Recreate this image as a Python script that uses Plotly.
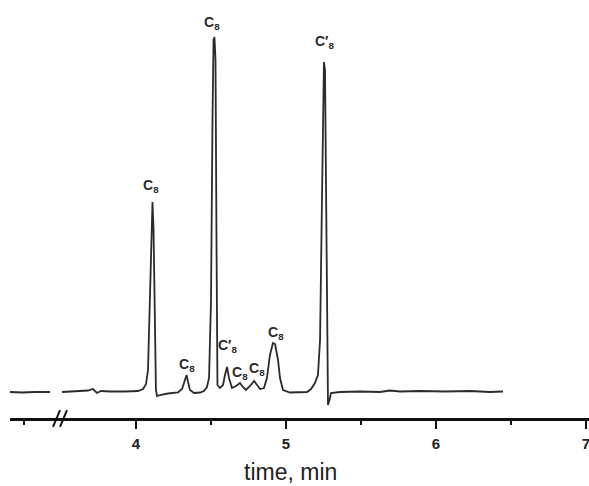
import plotly.graph_objects as go

# ---- data (time in min, detector signal in arbitrary units) ----
trace_time = [3.160, 3.240, 3.327, 3.427, None,
              3.507, 3.573, 3.640, 3.680, 3.713, 3.740, 3.767, 3.827, 3.927, 4.013,
              4.047, 4.067, 4.080, 4.093, 4.103, 4.110, 4.117, 4.127, 4.133, 4.140,
              4.160, 4.213, 4.280, 4.307, 4.327, 4.337, 4.347, 4.360, 4.387, 4.427,
              4.453, 4.473, 4.487, 4.500, 4.510, 4.517, 4.523, 4.530, 4.537, 4.543,
              4.560, 4.580, 4.593, 4.607, 4.620, 4.640, 4.667, 4.693, 4.713, 4.733,
              4.760, 4.787, 4.807, 4.827, 4.853, 4.873, 4.893, 4.913, 4.927, 4.947,
              4.960, 4.980, 5.027, 5.093, 5.140, 5.167, 5.193, 5.213, 5.227, 5.237,
              5.247, 5.253, 5.260, 5.267, 5.273, 5.280, 5.290, 5.300, 5.360, 5.493,
              5.627, 5.693, 5.760, 5.893, 6.060, 6.227, 6.360, 6.447]
trace_signal = [0, -0.5, 0, 0, None,
                0, 0.5, 1, 1.5, 3, -1, 1, 0.5, 0.5, 1,
                3, 8, 22, 102, 177, 190, 162, 52, 2, -4,
                -3, -1.5, -0.5, 3, 14, 17, 10, 2, -1, -0.5,
                1, 5, 14, 92, 272, 352, 355, 332, 142, 7,
                4, 7, 17, 25, 14, 4, 6, 9, 5, 2,
                6, 11, 7, 3, 4, 14, 37, 49, 48, 32,
                14, 2, -0.5, -0.5, 0, 3, 9, 17, 52, 162,
                292, 330, 322, 192, 62, -13, -8, -1, 0, 0.5,
                0, 1.5, 0.5, 1, 0.5, 1, 0, 0.5]

peak_times = [4.110, 4.337, 4.523, 4.607, 4.693, 4.787, 4.913, 5.253]
peak_heights = [190, 17, 355, 25, 9, 11, 49, 330]
peak_labels = ["C<sub>8</sub>", "C<sub>8</sub>", "C<sub>8</sub>", "C′<sub>8</sub>",
               "C<sub>8</sub>", "C<sub>8</sub>", "C<sub>8</sub>", "C′<sub>8</sub>"]

major_ticks = [4, 5, 6, 7]
major_tick_text = ["4", "5", "6", "7"]
minor_ticks = [3.25, 4.5, 5.5, 6.5]
x_title = "time, min"

# ---- styling / placement (pixels) ----
label_dx = [-2, 0, -2, 0, 0, 3, 3, 1]
label_dy = [16, 10, 14, 21, 10, 12, 10, 20]
ink = "#2b2b2b"
font_family = "Liberation Sans, Arial, sans-serif"

fig = go.Figure()
fig.add_trace(go.Scatter(x=trace_time, y=trace_signal, mode="lines",
                         line=dict(color=ink, width=1.8), connectgaps=False,
                         hoverinfo="skip", showlegend=False))

for t, h, lab, dx, dy in zip(peak_times, peak_heights, peak_labels, label_dx, label_dy):
    fig.add_annotation(x=t, y=h, text="<b>" + lab + "</b>", showarrow=False,
                       xanchor="center", yanchor="middle", xshift=dx, yshift=dy,
                       font=dict(family=font_family, size=14, color=ink))

fig.add_annotation(x=0.485, y=0, xref="paper", yref="paper", text=x_title,
                   showarrow=False, xanchor="center", yanchor="middle", yshift=-54,
                   font=dict(family=font_family, size=23, color="#222222"))

# axis break marks "//"
for x0, x1 in [(0.0743, 0.0864), (0.0864, 0.0984)]:
    fig.add_shape(type="line", xref="paper", yref="paper", x0=x0, x1=x1,
                  y0=-0.0215, y1=0.0191, line=dict(color="#111111", width=2))

fig.update_layout(
    width=589, height=486,
    margin=dict(l=10, r=0, t=0, b=68),
    paper_bgcolor="white", plot_bgcolor="white",
    xaxis=dict(range=[3.16, 7.02], showgrid=False, zeroline=False,
               showline=True, linecolor="#111111", linewidth=2.5,
               ticks="outside", ticklen=8, tickwidth=2, tickcolor="#111111",
               tickmode="array", tickvals=major_ticks,
               ticktext=["<b>" + s + "</b>" for s in major_tick_text],
               tickfont=dict(family=font_family, size=15, color="#222222"),
               ticklabelstandoff=2, ticklabeloverflow="allow",
               minor=dict(tickmode="array", tickvals=minor_ticks, ticks="outside",
                          ticklen=4, tickwidth=1.5, tickcolor="#111111", showgrid=False)),
    yaxis=dict(range=[-26, 392], visible=False, fixedrange=True),
    showlegend=False,
)

fig.write_html("out.html")
